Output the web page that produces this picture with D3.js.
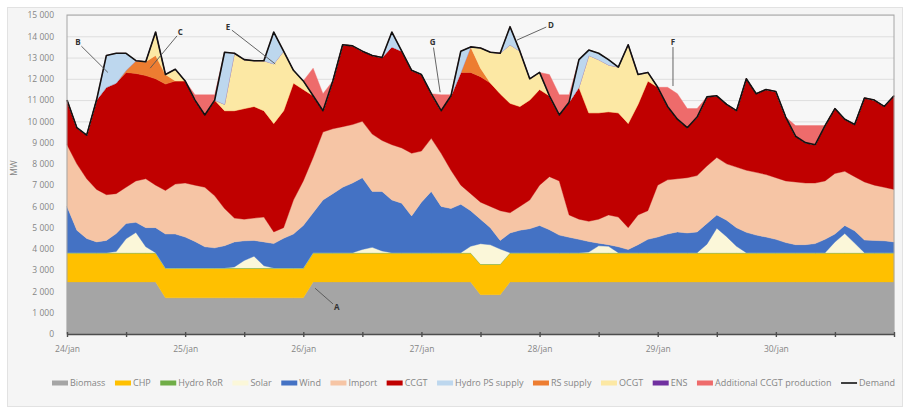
<!DOCTYPE html>
<html>
<head>
<meta charset="utf-8">
<script src="https://cdn.jsdelivr.net/npm/d3@7"></script>
<style>
body{margin:0;background:#fff;font-family:"Open Sans",sans-serif}
</style>
</head>
<body>
<div id="chart"></div>
<script>
// MW, one value every 2 hours from 24/jan 00:00 to 31/jan 00:00
var step = 2
var days = ['24/jan', '25/jan', '26/jan', '27/jan', '28/jan', '29/jan', '30/jan']

var biomass = [
  2450,2450,2450,2450,2450,2450,2450,2450,2450,2450,
  1700,1700,1700,1700,1700,1700,1700,1700,1700,1700,
  1700,1700,1700,1700,1700,2450,2450,2450,2450,2450,
  2450,2450,2450,2450,2450,2450,2450,2450,2450,2450,
  2450,2450,1850,1850,1850,2450,2450,2450,2450,2450,
  2450,2450,2450,2450,2450,2450,2450,2450,2450,2450,
  2450,2450,2450,2450,2450,2450,2450,2450,2450,2450,
  2450,2450,2450,2450,2450,2450,2450,2450,2450,2450,
  2450,2450,2450,2450,2450]
var chp = [
  1350,1350,1350,1350,1350,1350,1350,1350,1350,1350,
  1380,1380,1380,1380,1380,1380,1380,1380,1380,1380,
  1380,1380,1380,1380,1380,1350,1350,1350,1350,1350,
  1350,1350,1350,1350,1350,1350,1350,1350,1350,1350,
  1350,1350,1420,1420,1420,1350,1350,1350,1350,1350,
  1350,1350,1350,1350,1350,1350,1350,1350,1350,1350,
  1350,1350,1350,1350,1350,1350,1350,1350,1350,1350,
  1350,1350,1350,1350,1350,1350,1350,1350,1350,1350,
  1350,1350,1350,1350,1350]
var hydroRoR = [
  25,25,25,25,25,25,25,25,25,25,
  25,25,25,25,25,25,25,25,25,25,
  25,25,25,25,25,25,25,25,25,25,
  25,25,25,25,25,25,25,25,25,25,
  25,25,25,25,25,25,25,25,25,25,
  25,25,25,25,25,25,25,25,25,25,
  25,25,25,25,25,25,25,25,25,25,
  25,25,25,25,25,25,25,25,25,25,
  25,25,25,25,25]
var solar = [
  0,0,0,0,0,50,650,950,280,0,
  0,0,0,0,0,0,0,50,350,550,
  100,0,0,0,0,0,0,0,0,0,
  150,250,80,0,0,0,0,0,0,0,
  0,300,950,900,700,0,0,0,0,0,
  0,0,0,30,320,300,0,0,0,0,
  0,0,0,0,0,400,1150,750,300,0,
  0,0,0,0,0,0,0,0,500,900,
  450,0,0,0,0]
var wind = [
  2175,1055,665,505,575,845,725,475,895,1175,
  1595,1595,1455,1245,995,945,1045,1175,925,745,
  1125,1145,1395,1595,1995,1875,2475,2775,3075,3275,
  3375,2625,2795,2475,2325,1725,2375,2875,2175,2075,
  2275,1675,1155,805,405,925,1055,1125,1275,1075,
  825,725,625,495,125,75,275,145,375,625,
  735,875,975,925,975,975,625,775,875,955,
  825,735,625,475,375,375,425,625,375,375,
  575,595,575,555,505]
var imports = [
  2900,3120,2810,2470,2150,1880,1700,1950,2300,2000,
  2050,2350,2540,2650,2800,2450,1750,1120,1020,1050,
  1170,550,500,1600,2100,2600,3200,3050,2850,2750,
  2650,2700,2400,2600,2600,2950,2400,2500,2500,1800,
  900,800,800,1000,1400,950,1120,1350,1900,2500,
  2550,1050,950,950,1130,1400,1400,1030,1400,1350,
  2440,2550,2500,2600,2650,2700,2700,2650,2850,2920,
  2950,2940,2900,2900,2950,2900,2850,2750,2850,2550,
  2550,2730,2600,2520,2470]
var ccgt = [
  2100,1700,2050,4200,5050,5200,5400,5050,4850,5000,
  5000,4850,4800,4000,3400,4500,4600,5050,5200,5250,
  5000,5100,5500,5500,4300,2900,1000,2250,3850,3700,
  3300,3700,3900,4600,4550,3900,3600,2100,2000,3500,
  5300,5700,5900,5800,5500,5150,4700,4700,4500,3800,
  3100,5300,6200,5100,5000,4850,4900,4900,5200,6100,
  4600,3450,2800,2350,2750,3250,2900,2800,2650,4300,
  3700,4000,4050,3000,2150,1900,1800,2600,3050,2450,
  2450,3950,4000,3800,4400]
var hydroPS = [
  0,0,0,0,1500,1400,800,0,0,0,
  0,0,0,0,0,0,2450,0,0,0,
  0,1500,0,0,0,0,0,0,0,0,
  0,0,0,700,0,0,0,0,0,0,
  1000,0,0,0,0,850,0,0,0,0,
  0,0,1300,250,300,250,0,0,0,0,
  0,0,0,0,0,0,0,0,0,0,
  0,0,0,0,0,0,0,0,0,0,
  0,0,0,0,0]
var rsSupply = [
  0,0,0,0,0,0,100,600,650,1100,
  450,0,0,0,0,0,0,0,0,0,
  0,0,0,0,0,0,0,0,0,0,
  0,0,0,0,0,0,0,0,0,0,
  0,1200,400,0,0,0,0,0,0,0,
  0,0,0,0,0,0,0,0,0,0,
  0,0,0,0,0,0,0,0,0,0,
  0,0,0,0,0,0,0,0,0,0,
  0,0,0,0,0]
var ocgt = [
  0,0,0,0,0,0,0,0,0,1100,
  0,550,0,0,0,0,300,2700,2300,2150,
  2350,2800,2800,600,400,0,0,0,0,0,
  0,0,0,0,0,0,0,0,0,0,
  0,0,950,1450,1900,2750,2600,1000,800,0,
  0,0,0,2700,2500,2200,2150,3700,1400,400,
  0,0,0,0,0,0,0,0,0,0,
  0,0,0,0,0,0,0,0,0,0,
  0,0,0,0,0]
var ens = [
  0,0,0,0,0,0,0,0,0,0,
  0,0,0,0,0,0,0,0,0,0,
  0,0,0,0,0,0,0,0,0,0,
  0,0,0,0,0,0,0,0,0,0,
  0,0,0,0,0,0,0,0,0,0,
  0,0,0,0,0,0,0,0,0,0,
  0,0,0,0,0,0,0,0,0,0,
  0,0,0,0,0,0,0,0,0,0,
  0,0,0,0,0]
var additional = [
  0,0,0,0,0,0,0,0,0,0,
  0,0,0,250,950,250,0,0,0,0,
  0,0,0,0,0,1300,800,0,0,0,
  0,0,0,0,0,0,0,0,750,50,
  0,0,0,0,0,0,0,0,0,1000,
  950,350,0,0,0,0,0,0,0,0,
  0,900,1200,900,400,0,0,0,0,0,
  0,0,0,0,500,800,900,0,0,0,
  0,0,0,0,0]
var demand = [
  11000,9700,9350,11000,13100,13200,13200,12850,12800,14200,
  12200,12450,11900,11000,10300,11000,13250,13200,12900,12850,
  12850,14200,13300,12400,11900,11200,10500,11900,13600,13550,
  13300,13100,13000,14200,13300,12400,12200,11300,10500,11200,
  13300,13500,13450,13250,13200,14450,13300,12000,12300,11200,
  10300,10900,12900,13350,13200,12900,12550,13600,12200,12300,
  11600,10700,10100,9700,10200,11150,11200,10800,10500,12000,
  11300,11500,11400,10200,9300,9000,8900,9800,10600,10100,
  9850,11100,11000,10700,11200]

// letter callouts: label position and the point the leader line goes to (hour, MW)
var notes = [
  {label: 'B', hour: 2.2, mw: 13700, toHour: 8.3, toMw: 12300},
  {label: 'C', hour: 23, mw: 14200, toHour: 16.9, toMw: 12500},
  {label: 'E', hour: 32.7, mw: 14430, toHour: 42.3, toMw: 12700},
  {label: 'G', hour: 74.3, mw: 13700, toHour: 75.8, toMw: 11370},
  {label: 'D', hour: 98.3, mw: 14530, toHour: 91.4, toMw: 13820},
  {label: 'F', hour: 123.1, mw: 13730, toHour: 123.1, toMw: 11660},
  {label: 'A', hour: 54.8, mw: 1260, toHour: 50.4, toMw: 2150}
]

var series = [
  {key: 'Biomass', values: biomass, color: '#a5a5a5'},
  {key: 'CHP', values: chp, color: '#ffc000'},
  {key: 'Hydro RoR', values: hydroRoR, color: '#70ad47'},
  {key: 'Solar', values: solar, color: '#fbf7d9'},
  {key: 'Wind', values: wind, color: '#4472c4'},
  {key: 'Import', values: imports, color: '#f6c5a5'},
  {key: 'CCGT', values: ccgt, color: '#c00000'},
  {key: 'Hydro PS supply', values: hydroPS, color: '#bdd7ee'},
  {key: 'RS supply', values: rsSupply, color: '#ed7d31'},
  {key: 'OCGT', values: ocgt, color: '#fce8a4'},
  {key: 'ENS', values: ens, color: '#7030a0'},
  {key: 'Additional CCGT production', values: additional, color: '#ee6b6b'}
]
// pumped storage sits on top of the thermal peakers in the plot
var stackOrder = ['Biomass', 'CHP', 'Hydro RoR', 'Solar', 'Wind', 'Import', 'CCGT',
  'RS supply', 'OCGT', 'ENS', 'Hydro PS supply', 'Additional CCGT production']

var colorOf = {}
series.forEach(function(s){ colorOf[s.key] = s.color })

var rows = demand.map(function(d, i){
  var r = {hour: i * step}
  series.forEach(function(s){ r[s.key] = s.values[i] })
  return r
})

var svg = d3.select('#chart').append('svg').attr('width', 908).attr('height', 411)
svg.append('rect').attr('x', 7.5).attr('y', 7.5).attr('width', 895).attr('height', 399)
  .attr('fill', '#f5f5f5').attr('stroke', '#e2e2e2')

var x = d3.scaleLinear().domain([0, 168]).range([67, 894])
var y = d3.scaleLinear().domain([0, 15000]).range([334, 15])
var fmt = d3.formatLocale({decimal: ',', thousands: ' ', grouping: [3], currency: ['', '']}).format(',')

svg.append('rect').attr('x', x(0)).attr('y', y(15000)).attr('width', x(168) - x(0)).attr('height', y(0) - y(15000))
  .attr('fill', '#f7f7f7')

// gridlines
svg.append('g').selectAll('line').data(d3.range(1000, 15001, 1000)).join('line')
  .attr('x1', x(0)).attr('x2', x(168))
  .attr('y1', function(d){ return y(d) + .5 }).attr('y2', function(d){ return y(d) + .5 })
  .attr('stroke', '#dedede')

var stacked = d3.stack().keys(stackOrder)(rows)
var area = d3.area()
  .x(function(d){ return x(d.data.hour) })
  .y0(function(d){ return y(d[0]) })
  .y1(function(d){ return y(d[1]) })

svg.append('g').selectAll('path').data(stacked).join('path')
  .attr('d', area)
  .attr('fill', function(d){ return colorOf[d.key] })
  .attr('stroke', function(d){ return colorOf[d.key] })
  .attr('stroke-width', .4)

var line = d3.line().x(function(d, i){ return x(i * step) }).y(function(d){ return y(d) })
svg.append('path').attr('d', line(demand)).attr('fill', 'none')
  .attr('stroke', '#111').attr('stroke-width', 1.6).attr('stroke-linejoin', 'round')

// frame
svg.append('rect').attr('x', x(0)).attr('y', y(15000)).attr('width', x(168) - x(0)).attr('height', y(0) - y(15000))
  .attr('fill', 'none').attr('stroke', '#a6a6a6')

// axes
var yAxis = svg.append('g').attr('transform', 'translate(' + x(0) + ',0)')
  .call(d3.axisLeft(y).tickValues(d3.range(0, 15001, 1000)).tickSize(0).tickPadding(13).tickFormat(fmt))
yAxis.select('.domain').remove()
yAxis.selectAll('text').attr('fill', '#858585').style('font-size', '8.5px').style('font-family', '"Open Sans",sans-serif')

var xAxis = svg.append('g').attr('transform', 'translate(0,' + y(0) + ')')
  .call(d3.axisBottom(x).tickValues(d3.range(0, 169, 12)).tickSizeInner(3).tickSizeOuter(0).tickPadding(9)
    .tickFormat(function(h){ return h % 24 == 0 && h < 168 ? days[h / 24] : '' }))
xAxis.select('.domain').attr('stroke', '#4d4d4d').attr('stroke-width', 1.6)
xAxis.selectAll('.tick line').attr('stroke', '#4d4d4d').attr('stroke-width', 1.4).attr('y1', -2)
xAxis.selectAll('text').attr('fill', '#858585').style('font-size', '8.5px').style('font-family', '"Open Sans",sans-serif')

svg.append('text').attr('transform', 'translate(17,' + y(7800) + ') rotate(-90)')
  .attr('text-anchor', 'middle').attr('fill', '#858585').style('font-size', '8.5px').text('MW')

// callouts
var noteSel = svg.append('g').selectAll('g').data(notes).join('g')
noteSel.append('line')
  .each(function(d){
    var x0 = x(d.hour), y0 = y(d.mw), x1 = x(d.toHour), y1 = y(d.toMw)
    var len = Math.hypot(x1 - x0, y1 - y0)
    d3.select(this).attr('x1', x0 + (x1 - x0) * 5 / len).attr('y1', y0 + (y1 - y0) * 5 / len)
      .attr('x2', x1).attr('y2', y1)
  })
  .attr('stroke', '#555').attr('stroke-width', .9)
noteSel.append('text')
  .attr('x', function(d){ return x(d.hour) }).attr('y', function(d){ return y(d.mw) })
  .attr('text-anchor', 'middle').attr('dy', '0.35em')
  .attr('fill', '#333').style('font-size', '8px').style('font-weight', 'bold')
  .text(function(d){ return d.label })

// legend
var legendItems = series.map(function(s){ return {key: s.key, color: s.color, type: 'area'} })
legendItems.push({key: 'Demand', color: '#111', type: 'line'})
var legend = svg.append('g').style('font-size', '9px').attr('fill', '#858585')
var items = legend.selectAll('g').data(legendItems).join('g')
items.append('text').attr('x', 18).attr('y', 386).text(function(d){ return d.key })
var widths = items.nodes().map(function(n){ return 18 + n.querySelector('text').getComputedTextLength() })
var gap = (895 - 52 - d3.sum(widths)) / (widths.length - 1)
var pos = 52
items.each(function(d, i){
  d3.select(this).attr('transform', 'translate(' + pos + ',0)')
  pos += widths[i] + gap
})
items.filter(function(d){ return d.type == 'area' }).insert('rect', 'text')
  .attr('x', 0).attr('y', 380.5).attr('width', 16).attr('height', 5).attr('fill', function(d){ return d.color })
items.filter(function(d){ return d.type == 'line' }).insert('line', 'text')
  .attr('x1', 0).attr('x2', 16).attr('y1', 383).attr('y2', 383).attr('stroke', '#111').attr('stroke-width', 1.6)
</script>
</body>
</html>
